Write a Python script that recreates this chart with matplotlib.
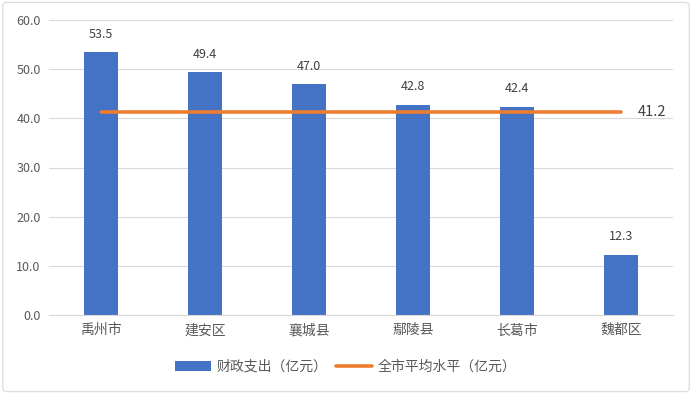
import matplotlib
matplotlib.use("Agg")
import numpy as np
import matplotlib.pyplot as plt
from matplotlib.patches import FancyBboxPatch

plt.rcParams['font.family'] = ['Noto Sans CJK SC', 'DejaVu Sans']

# data
districts = ["禹州市", "建安区", "襄城县", "鄢陵县", "长葛市", "魏都区"]
spending = [53.5, 49.4, 47.0, 42.8, 42.4, 12.3]
city_avg = [41.2] * len(districts)

fig = plt.figure(figsize=(6.92, 3.94), dpi=100)
ax = fig.add_axes([49 / 692, 79 / 394, 624 / 692, 295 / 394])

x = np.arange(len(districts))
bars = ax.bar(x, spending, width=0.32, color="#4472C4", label="财政支出（亿元）", zorder=2)
line, = ax.plot(x, city_avg, color="#ED7D31", linewidth=2.6, solid_capstyle="round",
                label="全市平均水平（亿元）", zorder=3)

for xi, v in zip(x, spending):
    ax.annotate(f"{v:.1f}", (xi, v), xytext=(0, 8), textcoords="offset points",
                ha="center", va="bottom", fontsize=9, color="#404040")
ax.annotate(f"{city_avg[-1]:.1f}", (x[-1], city_avg[-1]), xytext=(12, 0),
            textcoords="offset points", ha="left", va="center",
            fontsize=10.5, color="#404040")

ax.set_xlim(-0.5, len(districts) - 0.5)
ax.set_ylim(0, 60)
ax.set_yticks(np.arange(0, 61, 10))
ax.set_yticklabels([f"{t:.1f}" for t in np.arange(0, 61, 10)])
ax.set_xticks(x)
ax.set_xticklabels(districts)
ax.tick_params(axis="y", length=0, labelsize=9, colors="#595959", pad=6)
ax.tick_params(axis="x", length=0, labelsize=10, colors="#595959", pad=6)
ax.grid(axis="y", color="#D9D9D9", linewidth=0.8, zorder=0)
for s in ["top", "right", "left"]:
    ax.spines[s].set_visible(False)
ax.spines["bottom"].set_color("#D9D9D9")

leg = fig.legend([bars, line], ["财政支出（亿元）", "全市平均水平（亿元）"],
                 loc="center", bbox_to_anchor=(346 / 692, 1 - 367 / 394), ncol=2,
                 frameon=False, fontsize=10, handlelength=2.6, columnspacing=0.6,
                 handletextpad=0.4)
for t in leg.get_texts():
    t.set_color("#595959")

border = FancyBboxPatch((0.004, 0.006), 0.992, 0.988, boxstyle="round,pad=0,rounding_size=0.008",
                        transform=fig.transFigure, fill=False, edgecolor="#D9D9D9", linewidth=0.8)
fig.patches.append(border)

plt.savefig("out.png", dpi=100)
plt.close()
